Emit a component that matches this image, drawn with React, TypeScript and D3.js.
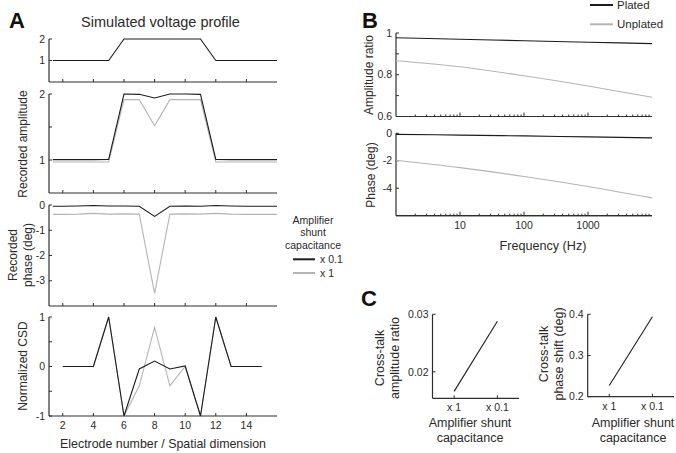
import React from 'react';
import * as d3 from 'd3';

const W = 676;
const H = 453;
const FONT = "'Liberation Sans', Arial, Helvetica, sans-serif";
const BLACK = '#1c1c1c';
const GRAY = '#b4b4b4';
const AXIS = '#2e2e2e';
const TXT = '#2a2a2a';

// ---------- Panel A data ----------
const electrodePos = [1.35, 2, 3, 4, 5, 6, 7, 8, 9, 10, 11, 12, 13, 14, 15, 16];
const voltageProfile = [1, 1, 1, 1, 1, 2, 2, 2, 2, 2, 2, 1, 1, 1, 1, 1];
const ampShunt01 = [1.005, 1.005, 1.005, 1.005, 1.01, 2.0, 1.995, 1.94, 2.0, 2.0, 1.995, 1.01, 1.005, 1.005, 1.005, 1.005];
const ampShunt1 = [0.97, 0.97, 0.97, 0.97, 0.97, 1.915, 1.915, 1.52, 1.915, 1.915, 1.915, 0.97, 0.97, 0.97, 0.97, 0.97];
const phaseShunt01 = [-0.05, -0.05, -0.04, -0.02, -0.04, -0.04, -0.05, -0.45, -0.05, -0.04, -0.05, -0.02, -0.04, -0.05, -0.05, -0.05];
const phaseShunt1 = [-0.37, -0.37, -0.36, -0.33, -0.36, -0.35, -0.36, -3.5, -0.36, -0.35, -0.36, -0.33, -0.36, -0.37, -0.37, -0.37];
const csdPos = [2, 3, 4, 5, 6, 7, 8, 9, 10, 11, 12, 13, 14, 15];
const csdShunt01 = [0, 0, 0, 1, -1, -0.05, 0.11, -0.05, 0.01, -1, 1, 0, 0, 0];
const csdShunt1 = [0, 0, 0, 1, -1, -0.39, 0.79, -0.39, 0.0, -1, 1, 0, 0, 0];
const electrodeTicks = [2, 4, 6, 8, 10, 12, 14];
const legendA = ['x 0.1', 'x 1'];

// ---------- Panel B data ----------
const freqHz = [1, 10, 100, 1000, 10000];
const ampPlated = [0.977, 0.970, 0.963, 0.956, 0.949];
const ampUnplated = [0.867, 0.838, 0.795, 0.746, 0.692];
const phasePlated = [-0.08, -0.13, -0.19, -0.26, -0.33];
const phaseUnplated = [-1.96, -2.5, -3.14, -3.87, -4.7];
const freqTickLabels = [10, 100, 1000];
const legendB = ['Plated', 'Unplated'];

// ---------- Panel C data ----------
const shuntCats = ['x 1', 'x 0.1'];
const crossTalkAmp = [0.0166, 0.0288];
const crossTalkPhase = [0.227, 0.394];

type Scale = (v: number) => number;

function LeftAxis({ x, y, ticks, labels, fmt, top, bottom }: { x: number; y: Scale; ticks: number[]; labels: number[]; fmt?: (v: number) => string; top: number; bottom: number }) {
  const f = fmt || ((v: number) => String(v));
  return (
    <g>
      <line x1={x} x2={x} y1={top} y2={bottom} stroke={AXIS} strokeWidth={1.2} />
      {ticks.map((t, i) => (
        <line key={'t' + i} x1={x} x2={x + 3} y1={y(t)} y2={y(t)} stroke={AXIS} strokeWidth={1} />
      ))}
      {labels.map((t, i) => (
        <text key={'l' + i} x={x - 4} y={y(t)} dy="0.35em" textAnchor="end" fontSize={10.5} fill={TXT}>{f(t)}</text>
      ))}
    </g>
  );
}

function BottomAxis({ y, x, ticks, left, right, labels, len = 3 }: { y: number; x: Scale; ticks: number[]; left: number; right: number; labels?: { v: number; s: string }[]; len?: number }) {
  return (
    <g>
      <line x1={left} x2={right} y1={y} y2={y} stroke={AXIS} strokeWidth={1.2} />
      {ticks.map((t, i) => (
        <line key={'t' + i} x1={x(t)} x2={x(t)} y1={y} y2={y - len} stroke={AXIS} strokeWidth={1} />
      ))}
      {(labels || []).map((l, i) => (
        <text key={'l' + i} x={x(l.v)} y={y + 13} textAnchor="middle" fontSize={10.5} fill={TXT}>{l.s}</text>
      ))}
    </g>
  );
}

function VLabel({ x, y, lines, size = 12.5, gap = 14.5 }: { x: number; y: number; lines: string[]; size?: number; gap?: number }) {
  return (
    <g>
      {lines.map((s, i) => (
        <text key={i} transform={`translate(${x + i * gap},${y}) rotate(-90)`} textAnchor="middle" dy="0.35em" fontSize={size} fill={TXT}>{s}</text>
      ))}
    </g>
  );
}

export default function App() {
  // ----- Panel A scales -----
  const xA = d3.scaleLinear().domain([1.1, 16]).range([49, 277]);
  const yProf = d3.scaleLinear().domain([0, 2]).range([82, 39]);
  const yAmp = d3.scaleLinear().domain([0.5, 2]).range([193, 94]);
  const yPh = d3.scaleLinear().domain([-4, 0]).range([306, 205]);
  const yCsd = d3.scaleLinear().domain([-1, 1]).range([416, 317]);

  const lineA = (ys: number[], yS: Scale, xs: number[]) =>
    d3.line<number>().x((_, i) => xA(xs[i])).y((d) => yS(d))(ys) || '';

  // ----- Panel B scales -----
  const xB = d3.scaleLog().domain([1, 10000]).range([396, 652]);
  const yBA = d3.scaleLinear().domain([0.6, 1]).range([116.5, 33]);
  const yBP = d3.scaleLinear().domain([-6, 0]).range([215.7, 133.3]);
  const lineB = (ys: number[], yS: Scale) =>
    d3.line<number>().x((_, i) => xB(freqHz[i])).y((d) => yS(d)).curve(d3.curveMonotoneX)(ys) || '';
  const minorB: number[] = [];
  [1, 10, 100, 1000].forEach((dec) => {
    for (let k = 2; k <= 9; k++) minorB.push(dec * k);
  });

  // ----- Panel C scales -----
  const xC1 = d3.scaleLinear().domain([0.5, 2.5]).range([432.5, 519]);
  const xC2 = d3.scaleLinear().domain([0.5, 2.5]).range([587.7, 674]);
  const yC1 = d3.scaleLinear().domain([0.0154, 0.03]).range([398.3, 314.3]);
  const yC2 = d3.scaleLinear().domain([0.2, 0.4]).range([396.7, 314.3]);
  const lineC = (ys: number[], xS: Scale, yS: Scale) =>
    d3.line<number>().x((_, i) => xS(i + 1)).y((d) => yS(d))(ys) || '';

  const axisLeftA = 49;
  const axisRightA = 277;

  return (
    <svg width={W} height={H} viewBox={`0 0 ${W} ${H}`} style={{ position: 'absolute', left: 0, top: 0, fontFamily: FONT, background: '#fff' }}>
      <rect x={0} y={0} width={W} height={H} fill="#fff" />
      {/* Panel letters */}
      <text x={9} y={28} fontSize={22} fontWeight="bold" fill="#111">A</text>
      <text x={362} y={28} fontSize={22} fontWeight="bold" fill="#111">B</text>
      <text x={361} y={306} fontSize={22} fontWeight="bold" fill="#111">C</text>

      {/* ===== Panel A ===== */}
      <text x={160.5} y={27} textAnchor="middle" fontSize={14.5} fill={TXT}>Simulated voltage profile</text>

      {/* A1 voltage profile */}
      <LeftAxis x={axisLeftA} y={yProf} ticks={[1, 2]} labels={[1, 2]} top={yProf(2)} bottom={yProf(0)} />
      <BottomAxis y={yProf(0)} x={xA} ticks={electrodeTicks} left={axisLeftA} right={axisRightA} />
      <path d={lineA(voltageProfile, yProf, electrodePos)} fill="none" stroke={BLACK} strokeWidth={1.1} />

      {/* A2 amplitude */}
      <LeftAxis x={axisLeftA} y={yAmp} ticks={[1, 1.5, 2]} labels={[1, 2]} top={yAmp(2)} bottom={yAmp(0.5)} />
      <BottomAxis y={yAmp(0.5)} x={xA} ticks={electrodeTicks} left={axisLeftA} right={axisRightA} />
      <path d={lineA(ampShunt1, yAmp, electrodePos)} fill="none" stroke={GRAY} strokeWidth={1.1} />
      <path d={lineA(ampShunt01, yAmp, electrodePos)} fill="none" stroke={BLACK} strokeWidth={1.1} />
      <VLabel x={23} y={144} lines={['Recorded amplitude']} size={12} />

      {/* A3 phase */}
      <LeftAxis x={axisLeftA} y={yPh} ticks={[0, -1, -2, -3]} labels={[0, -1, -2, -3]} top={yPh(0)} bottom={yPh(-4)} />
      <BottomAxis y={yPh(-4)} x={xA} ticks={electrodeTicks} left={axisLeftA} right={axisRightA} />
      <path d={lineA(phaseShunt1, yPh, electrodePos)} fill="none" stroke={GRAY} strokeWidth={1.1} />
      <path d={lineA(phaseShunt01, yPh, electrodePos)} fill="none" stroke={BLACK} strokeWidth={1.1} />
      <VLabel x={13} y={255} lines={['Recorded', 'phase (deg)']} size={12} gap={15} />

      {/* A4 CSD */}
      <LeftAxis x={axisLeftA} y={yCsd} ticks={[-1, -0.5, 0, 0.5, 1]} labels={[-1, 0, 1]} top={yCsd(1)} bottom={yCsd(-1)} />
      <BottomAxis y={yCsd(-1)} x={xA} ticks={electrodeTicks} left={axisLeftA} right={axisRightA} labels={electrodeTicks.map((v) => ({ v, s: String(v) }))} />
      <path d={lineA(csdShunt1, yCsd, csdPos)} fill="none" stroke={GRAY} strokeWidth={1.1} />
      <path d={lineA(csdShunt01, yCsd, csdPos)} fill="none" stroke={BLACK} strokeWidth={1.1} />
      <VLabel x={23} y={366} lines={['Normalized CSD']} size={12} />
      <text x={163} y={448} textAnchor="middle" fontSize={12.4} fill={TXT}>Electrode number / Spatial dimension</text>

      {/* Legend A */}
      <g fontSize={10.5} fill={TXT}>
        <text x={313} y={223.7} textAnchor="middle">Amplifier</text>
        <text x={313} y={236.4} textAnchor="middle">shunt</text>
        <text x={313} y={248.7} textAnchor="middle">capacitance</text>
        {legendA.map((s, i) => (
          <g key={s}>
            <line x1={293} x2={315} y1={259.3 + i * 13.7} y2={259.3 + i * 13.7} stroke={i === 0 ? BLACK : GRAY} strokeWidth={2} />
            <text x={320} y={259.3 + i * 13.7} dy="0.35em">{s}</text>
          </g>
        ))}
      </g>

      {/* ===== Panel B ===== */}
      {/* B1 amplitude ratio */}
      <LeftAxis x={396} y={yBA} ticks={[0.6, 0.7, 0.8, 0.9, 1]} labels={[0.6, 0.8, 1]} top={yBA(1)} bottom={yBA(0.6)} />
      <BottomAxis y={yBA(0.6)} x={xB} ticks={minorB} left={396} right={652} len={2} />
      <BottomAxis y={yBA(0.6)} x={xB} ticks={freqTickLabels} left={396} right={652} len={4} />
      <path d={lineB(ampUnplated, yBA)} fill="none" stroke={GRAY} strokeWidth={1.1} />
      <path d={lineB(ampPlated, yBA)} fill="none" stroke={BLACK} strokeWidth={1.1} />
      <VLabel x={369} y={75} lines={['Amplitude ratio']} size={12} />

      {/* B2 phase */}
      <LeftAxis x={396} y={yBP} ticks={[0, -2, -4]} labels={[0, -2, -4]} top={yBP(0)} bottom={yBP(-6)} />
      <BottomAxis y={yBP(-6)} x={xB} ticks={minorB} left={396} right={652} len={2} />
      <BottomAxis y={yBP(-6)} x={xB} ticks={freqTickLabels} left={396} right={652} len={4} labels={freqTickLabels.map((v) => ({ v, s: String(v) }))} />
      <path d={lineB(phaseUnplated, yBP)} fill="none" stroke={GRAY} strokeWidth={1.1} />
      <path d={lineB(phasePlated, yBP)} fill="none" stroke={BLACK} strokeWidth={1.1} />
      <VLabel x={371} y={175} lines={['Phase (deg)']} size={12} />
      <text x={543} y={249.5} textAnchor="middle" fontSize={12.6} fill={TXT}>Frequency (Hz)</text>

      {/* Legend B */}
      <g fontSize={11.5} fill={TXT}>
        {legendB.map((s, i) => (
          <g key={s}>
            <line x1={590} x2={613} y1={5 + i * 19.3} y2={5 + i * 19.3} stroke={i === 0 ? BLACK : GRAY} strokeWidth={2} />
            <text x={617} y={5 + i * 19.3} dy="0.35em">{s}</text>
          </g>
        ))}
      </g>

      {/* ===== Panel C ===== */}
      <LeftAxis x={432.5} y={yC1} ticks={[0.02, 0.03]} labels={[0.02, 0.03]} fmt={(v) => v.toFixed(2)} top={yC1(0.03)} bottom={yC1(0.0154)} />
      <BottomAxis y={yC1(0.0154)} x={xC1} ticks={[1, 2]} left={432.5} right={519} labels={shuntCats.map((s, i) => ({ v: i + 1, s }))} />
      <path d={lineC(crossTalkAmp, xC1, yC1)} fill="none" stroke={BLACK} strokeWidth={1.1} />
      <VLabel x={380} y={358} lines={['Cross-talk', 'amplitude ratio']} size={12.5} />
      <text x={470} y={426.5} textAnchor="middle" fontSize={12.5} fill={TXT}>Amplifier shunt</text>
      <text x={470} y={441.5} textAnchor="middle" fontSize={12.5} fill={TXT}>capacitance</text>

      <LeftAxis x={587.7} y={yC2} ticks={[0.2, 0.3, 0.4]} labels={[0.2, 0.3, 0.4]} fmt={(v) => v.toFixed(1)} top={yC2(0.4)} bottom={yC2(0.2)} />
      <BottomAxis y={yC2(0.2)} x={xC2} ticks={[1, 2]} left={587.7} right={674} labels={shuntCats.map((s, i) => ({ v: i + 1, s }))} />
      <path d={lineC(crossTalkPhase, xC2, yC2)} fill="none" stroke={BLACK} strokeWidth={1.1} />
      <VLabel x={544} y={354} lines={['Cross-talk', 'phase shift (deg)']} size={12.5} />
      <text x={633} y={426.5} textAnchor="middle" fontSize={12.5} fill={TXT}>Amplifier shunt</text>
      <text x={633} y={441.5} textAnchor="middle" fontSize={12.5} fill={TXT}>capacitance</text>
    </svg>
  );
}
